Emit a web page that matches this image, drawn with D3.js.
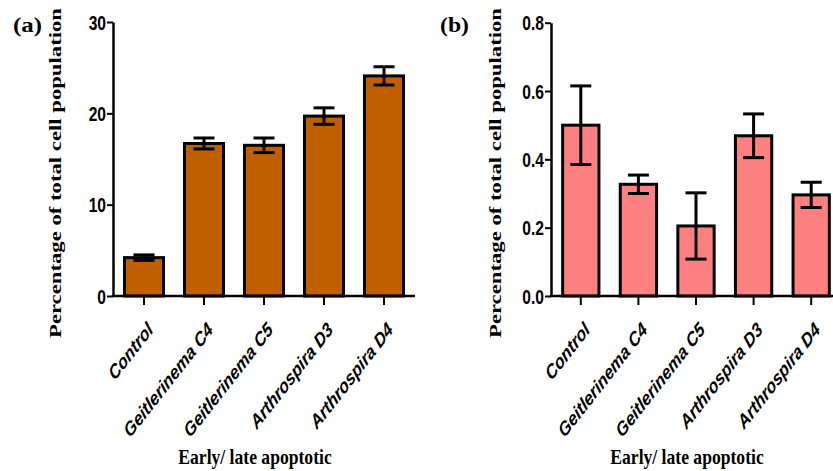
<!DOCTYPE html>
<html>
<head>
<meta charset="utf-8">
<script src="https://cdn.jsdelivr.net/npm/d3@7"></script>
<style>
  html, body { margin: 0; padding: 0; background: #fff; }
  svg { display: block; }
</style>
</head>
<body>
<svg id="chart" width="833" height="471"></svg>
<script>
// Treatment groups (shared by both panels)
const categories = ["Control", "Geitlerinema C4", "Geitlerinema C5", "Arthrospira D3", "Arthrospira D4"];

// (a) early/late apoptotic cells, % of total population (mean, SD)
const apoptoticA = [4.2, 16.7, 16.5, 19.7, 24.1];
const apoptoticAErr = [0.3, 0.6, 0.8, 0.9, 1.0];
const ticksA = [0, 10, 20, 30];

// (b) second measurement, % of total population (mean, SD)
const apoptoticB = [0.50, 0.327, 0.205, 0.469, 0.296];
const apoptoticBErr = [0.115, 0.027, 0.097, 0.064, 0.037];
const ticksB = [0, 0.2, 0.4, 0.6, 0.8];

const yTitle = "Percentage of total cell population";
const xTitle = "Early/ late apoptotic";

const svg = d3.select("#chart");
const SX = 0.8;      // horizontal text squeeze used throughout the figure
const SX_CAT = 0.78; // squeeze for the slanted category labels

// 45° label, squeezed horizontally on screen, written as an explicit matrix
const c45 = Math.SQRT1_2;
const slanted = (tx, ty) =>
  `matrix(${SX_CAT * c45},${-c45},${SX_CAT * c45},${c45},${tx},${ty})`;

function panel(cfg) {
  const g = svg.append("g");

  const x = d3.scaleBand()
    .domain(categories)
    .range([cfg.x0, cfg.x1])
    .paddingInner(cfg.padIn)
    .paddingOuter(cfg.padIn / 2);

  const y = d3.scaleLinear()
    .domain([0, cfg.max])
    .range([cfg.yBase, cfg.yTop]);

  // bars
  g.selectAll("rect.bar")
    .data(cfg.values)
    .join("rect")
    .attr("class", "bar")
    .attr("x", (d, i) => x(categories[i]))
    .attr("width", x.bandwidth())
    .attr("y", d => y(d))
    .attr("height", d => y(0) - y(d))
    .attr("fill", cfg.color)
    .attr("stroke", "#000")
    .attr("stroke-width", 3);

  // error bars
  const eb = g.selectAll("g.err")
    .data(cfg.values.map((v, i) => ({ v, e: cfg.errors[i], c: categories[i] })))
    .join("g")
    .attr("class", "err")
    .attr("stroke", "#000")
    .attr("stroke-width", 3);
  const cx = d => x(d.c) + x.bandwidth() / 2;
  eb.append("line")
    .attr("x1", cx).attr("x2", cx)
    .attr("y1", d => y(d.v + d.e)).attr("y2", d => y(d.v - d.e));
  [1, -1].forEach(s => {
    eb.append("line")
      .attr("x1", d => cx(d) - 10.5).attr("x2", d => cx(d) + 10.5)
      .attr("y1", d => y(d.v + s * d.e)).attr("y2", d => y(d.v + s * d.e));
  });

  // y axis
  const yAxis = g.append("g")
    .attr("transform", `translate(${cfg.x0 - 1},0)`)
    .call(d3.axisLeft(y).tickValues(cfg.ticks).tickFormat(cfg.fmt).tickSize(6).tickSizeOuter(0));
  yAxis.select(".domain").attr("stroke", "#000").attr("stroke-width", 2.5);
  yAxis.selectAll(".tick line").attr("stroke", "#000").attr("stroke-width", 2);
  yAxis.selectAll(".tick text")
    .attr("x", 0)
    .attr("dy", "0.36em")
    .attr("transform", `translate(-7,0) scale(${SX},1)`)
    .attr("fill", "#000")
    .style("font-family", "'Liberation Sans', Arial, sans-serif")
    .style("font-weight", "bold")
    .style("font-size", "19.5px");

  // x axis
  const xAxis = g.append("g")
    .attr("transform", `translate(0,${cfg.yBase})`)
    .call(d3.axisBottom(x).tickSize(9).tickSizeOuter(0).tickFormat(""));
  xAxis.select(".domain")
    .attr("d", `M${cfg.x0 - 2.2},0H${cfg.xEnd}`)
    .attr("stroke", "#000").attr("stroke-width", 2.5);
  xAxis.selectAll(".tick line").attr("stroke", "#000").attr("stroke-width", 2);

  // slanted category labels
  g.selectAll("text.cat")
    .data(categories)
    .join("text")
    .attr("class", "cat")
    .attr("text-anchor", "end")
    .attr("transform", d => slanted(x(d) + x.bandwidth() / 2 + 10, cfg.yBase + 35))
    .style("font-family", "'Liberation Sans', Arial, sans-serif")
    .style("font-weight", "bold")
    .style("font-style", "italic")
    .style("font-size", "20px")
    .attr("fill", "#000")
    .text(d => d);

  // y title
  g.append("text")
    .attr("text-anchor", "middle")
    .attr("transform", `matrix(0,-1,${SX},0,${cfg.yTitleX},173)`)
    .attr("textLength", 330)
    .attr("lengthAdjust", "spacingAndGlyphs")
    .style("font-family", "'Liberation Serif', 'Times New Roman', serif")
    .style("font-weight", "bold")
    .style("font-size", "22px")
    .attr("fill", "#000")
    .text(yTitle);

  // x title
  g.append("text")
    .attr("text-anchor", "middle")
    .attr("transform", `translate(${cfg.xTitleX},464) scale(${SX},1)`)
    .style("font-family", "'Liberation Serif', 'Times New Roman', serif")
    .style("font-weight", "bold")
    .style("font-size", "22px")
    .attr("fill", "#000")
    .text(xTitle);

  // panel letter
  g.append("text")
    .attr("x", cfg.letterX)
    .attr("y", 32)
    .attr("textLength", 29)
    .attr("lengthAdjust", "spacingAndGlyphs")
    .style("font-family", "'Liberation Serif', 'Times New Roman', serif")
    .style("font-weight", "bold")
    .style("font-size", "22px")
    .attr("fill", "#000")
    .text(cfg.letter);
}

panel({
  values: apoptoticA, errors: apoptoticAErr, ticks: ticksA, max: 30,
  fmt: d3.format("d"), color: "#c05f00",
  x0: 114, x1: 414, xEnd: 415, padIn: 0.35,
  yBase: 296, yTop: 22,
  yTitleX: 61, xTitleX: 255, letterX: 13, letter: "(a)"
});

panel({
  values: apoptoticB, errors: apoptoticBErr, ticks: ticksB, max: 0.8,
  fmt: d3.format(".1f"), color: "#ff8080",
  x0: 552, x1: 840, xEnd: 840, padIn: 0.37,
  yBase: 296, yTop: 22.7,
  yTitleX: 501, xTitleX: 687, letterX: 440, letter: "(b)"
});
</script>
</body>
</html>
